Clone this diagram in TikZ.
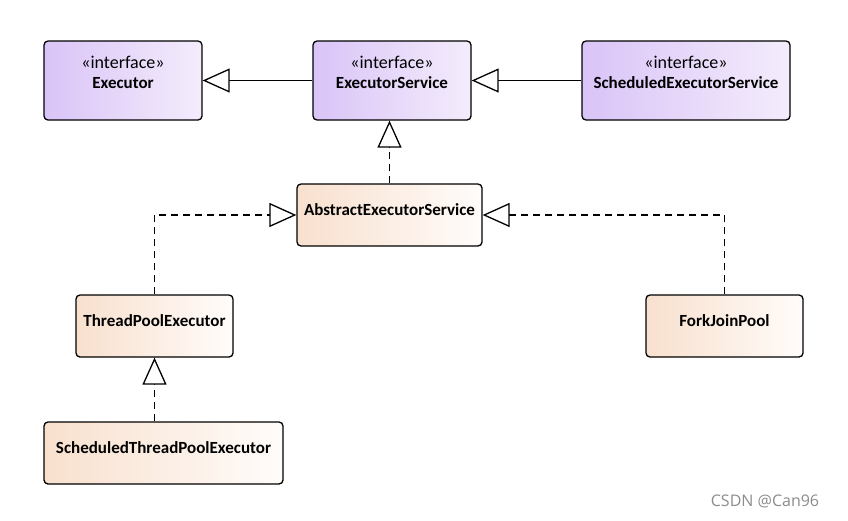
\documentclass[tikz,border=0pt]{standalone}
\usepackage{fontspec}
\setmainfont{Carlito}
\newfontfamily\wmfont{Open Sans}
\usetikzlibrary{arrows.meta}
\definecolor{ileft}{HTML}{D9C4F7}
\definecolor{iright}{HTML}{F4ECFC}
\definecolor{cleft}{HTML}{F8E0CE}
\definecolor{cright}{HTML}{FFFCFA}
\tikzset{
  box/.style={draw=black, line width=1.3pt, rounded corners=4pt, inner sep=0pt, shading=axis, shading angle=90},
  ibox/.style={box, left color=ileft, right color=iright},
  cbox/.style={box, left color=cleft, right color=cright, font=\fontsize{17}{20}\selectfont\bfseries, text height=12pt, text depth=12pt},
  txt/.style={font=\fontsize{17}{20}\selectfont, align=center, inner sep=0pt},
  gen/.style={line width=1.3pt, -{Triangle[open, length=27pt, width=24pt, line width=1.3pt, fill=white]}},
  realize/.style={gen, dash pattern=on 7pt off 5pt},
}
\begin{document}
\begin{tikzpicture}[x=1pt,y=-1pt]
\useasboundingbox[fill=white] (0,0) rectangle (848,520);
% interface boxes
\node[ibox, minimum width=158pt, minimum height=79pt] (ex) at (123,80.5) {};
\node[txt] (ext) at (123,72) {{\fontsize{18}{20}\selectfont«interface»}\\\textbf{Executor}};
\node[ibox, minimum width=158pt, minimum height=79pt] (es) at (392,80.5) {};
\node[txt] (est) at (392,72) {{\fontsize{18}{20}\selectfont«interface»}\\\textbf{ExecutorService}};
\node[ibox, minimum width=208pt, minimum height=79pt] (ses) at (686,80.5) {};
\node[txt] (sest) at (686,72) {{\fontsize{18}{20}\selectfont«interface»}\\\textbf{ScheduledExecutorService}};
% classes
\node[cbox, minimum width=185pt, minimum height=62pt] (aes) at (389.5,215) {AbstractExecutorService};
\node[cbox, minimum width=157pt, minimum height=62pt] (tpe) at (154.5,326) {ThreadPoolExecutor};
\node[cbox, minimum width=157pt, minimum height=62pt] (fjp) at (724.5,326) {ForkJoinPool};
\node[cbox, minimum width=239pt, minimum height=62pt] (stpe) at (163.5,453) {ScheduledThreadPoolExecutor};
% connectors
\draw[gen] (es.west) -- (ex.east);
\draw[gen] (ses.west) -- (es.east);
\draw[realize] (aes.north) -- (aes.north |- es.south);
\draw[realize] (tpe.north) |- (aes.west);
\draw[realize] (fjp.north) |- (aes.east);
\draw[realize] (stpe.north -| tpe.south) -- (tpe.south);
% watermark
\node[font=\wmfont\fontsize{16}{18}\selectfont, text=black!45, inner sep=0pt] (wm) at (765,501) {CSDN @Can96};
\end{tikzpicture}
\end{document}
